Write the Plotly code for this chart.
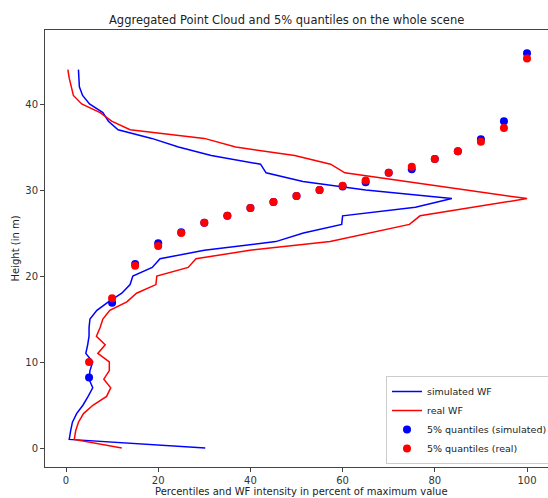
import plotly.graph_objects as go

# Heights (m) for the waveform profiles
heights = list(range(0, 45))

sim_wf = [30.2, 0.7, 1.0, 1.4, 2.3, 3.7, 4.8, 5.8, 5.0, 5.2,
          5.8, 4.3, 4.7, 5.0, 5.0, 5.2, 6.7, 9.2, 12.1, 13.9,
          14.5, 18.7, 20.4, 30.0, 45.5, 51.5, 59.8, 60.0, 75.8, 83.7,
          65.0, 51.4, 43.4, 42.2, 31.5, 24.4, 18.6, 11.3, 9.2, 8.0,
          5.1, 3.6, 2.9, 2.8, 2.7]

real_wf = [12.1, 1.8, 2.1, 2.7, 3.8, 5.9, 8.8, 9.7, 8.2, 9.4,
           9.4, 6.9, 8.5, 6.6, 7.4, 8.0, 9.5, 13.2, 15.3, 19.5,
           19.7, 26.5, 28.2, 39.9, 57.3, 66.0, 74.5, 76.8, 88.5, 100.0,
           86.8, 73.6, 60.5, 57.4, 49.6, 36.8, 30.0, 13.9, 9.9, 7.4,
           3.4, 1.6, 1.1, 0.7, 0.4]

# 5% quantiles
percentiles = [5, 10, 15, 20, 25, 30, 35, 40, 45, 50,
               55, 60, 65, 70, 75, 80, 85, 90, 95, 100]
q_sim = [8.2, 16.9, 21.4, 23.8, 25.1, 26.2, 27.0, 27.9, 28.6, 29.3,
         30.0, 30.4, 30.9, 32.0, 32.4, 33.6, 34.5, 35.9, 38.0, 45.9]
q_real = [10.0, 17.4, 21.2, 23.5, 25.0, 26.2, 27.0, 27.9, 28.6, 29.3,
          30.0, 30.5, 31.1, 32.0, 32.7, 33.6, 34.5, 35.6, 37.2, 45.3]

x_ticks = [0, 20, 40, 60, 80, 100]
y_ticks = [0, 10, 20, 30, 40]

FONT = "DejaVu Sans"
W, H = 548, 498
L, R, T, B = 45, 0, 30, 31

fig = go.Figure()
fig.add_trace(go.Scatter(x=sim_wf, y=heights, mode="lines", name="simulated WF",
                         line=dict(color="#0000ff", width=1.5)))
fig.add_trace(go.Scatter(x=real_wf, y=heights, mode="lines", name="real WF",
                         line=dict(color="#ff0000", width=1.5)))
fig.add_trace(go.Scatter(x=percentiles, y=q_sim, mode="markers",
                         name="5% quantiles (simulated)",
                         marker=dict(color="#0000ff", size=8, line=dict(width=0))))
fig.add_trace(go.Scatter(x=percentiles, y=q_real, mode="markers",
                         name="5% quantiles (real)",
                         marker=dict(color="#ff0000", size=8, line=dict(width=0))))

pw = W - L - R
ph = H - T - B

fig.update_layout(
    width=W, height=H,
    margin=dict(l=L, r=R, t=T, b=B, pad=0, autoexpand=False),
    paper_bgcolor="white", plot_bgcolor="white",
    font=dict(family=FONT, size=10, color="#333333"),
    showlegend=True,
    legend=dict(x=(386 - L) / pw, y=(467 - 464) / ph, xanchor="left", yanchor="bottom",
                bgcolor="white", bordercolor="#cccccc", borderwidth=1,
                font=dict(family=FONT, size=9.5, color="#222222"),
                itemwidth=30, tracegroupgap=0),
    xaxis=dict(range=[(L - 66) / 4.61, (W - 66) / 4.61], tickvals=x_ticks,
               automargin=False,
               showgrid=False, zeroline=False, showline=True, linecolor="#444444",
               linewidth=1, mirror=True, ticks="outside", ticklen=4,
               tickcolor="#444444", tickfont=dict(size=10, color="#333333")),
    yaxis=dict(range=[(448 - 467) / 8.6, (448 - 30) / 8.6], tickvals=y_ticks,
               automargin=False,
               showgrid=False, zeroline=False, showline=True, linecolor="#444444",
               linewidth=1, ticks="outside", ticklen=4, tickcolor="#444444",
               tickfont=dict(size=10, color="#333333")),
    annotations=[
        dict(text="Aggregated Point Cloud and 5% quantiles on the whole scene",
             xref="paper", yref="paper", x=(286 - L) / pw, y=(H - B - 20) / ph,
             xanchor="center", yanchor="middle", showarrow=False,
             font=dict(family=FONT, size=11.5, color="#222222")),
        dict(text="Percentiles and WF intensity in percent of maximum value",
             xref="paper", yref="paper", x=(153 - L) / pw, y=(467 - 491) / ph,
             xanchor="left", yanchor="middle", showarrow=False,
             font=dict(family=FONT, size=10, color="#222222")),
        dict(text="Height (in m)", xref="paper", yref="paper",
             x=(15 - L) / pw, y=0.5, xanchor="center", yanchor="middle",
             textangle=-90, showarrow=False,
             font=dict(family=FONT, size=10, color="#222222")),
    ],
)

fig.write_html(
    "out.html",
    config={"displayModeBar": False},
    post_script="document.body.style.margin='0';document.body.style.padding='0';"
                "document.body.style.overflow='hidden';",
)
